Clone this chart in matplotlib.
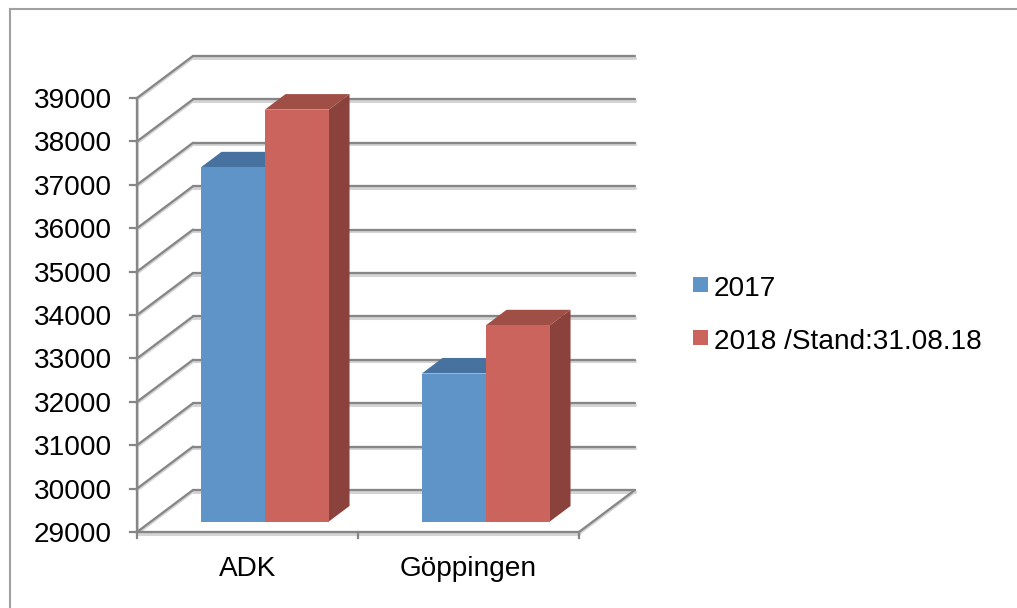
import numpy as np
import matplotlib
matplotlib.use('Agg')
import matplotlib.pyplot as plt
from matplotlib.lines import Line2D
from matplotlib.patches import Polygon

plt.rcParams['font.family'] = ['Liberation Sans', 'DejaVu Sans']

categories = ['ADK', 'Göppingen']
series_names = ['2017', '2018 /Stand:31.08.18']
values_2017 = [37160, 32410]
values_2018 = [38490, 33520]
y_ticks = [29000, 30000, 31000, 32000, 33000, 34000, 35000, 36000, 37000, 38000, 39000]

W, H = 1017, 608
GRID = '#868686'
BLUE, BLUE_TOP = '#5f94c9', '#47729f'
RED, RED_TOP, RED_SIDE = '#cb645c', '#a04f47', '#8c423c'
FS = 20.2

fig = plt.figure(figsize=(W / 100, H / 100), dpi=100)
# front plane of the fake 3d box, in pixels 137..579 / 98..532
ax = fig.add_axes([137 / W, 1 - 532 / H, (579 - 137) / W, (532 - 98) / H])
ax.set_xlim(0, 2)
ax.set_ylim(29000, 39000)
ax.axis('off')

# one full step of depth, in data units
DX = 56 / 221
DY = 42 / 43.4 * 1000


def proj(x, y, d):
    return (x + d * DX, y + d * DY)


def box(x0, x1, top, base, col, col_top, col_side, z):
    d0, d1 = 0.25, 0.62
    front = [proj(x0, base, d0), proj(x1, base, d0), proj(x1, top, d0), proj(x0, top, d0)]
    side = [proj(x1, base, d0), proj(x1, base, d1), proj(x1, top, d1), proj(x1, top, d0)]
    roof = [proj(x0, top, d0), proj(x1, top, d0), proj(x1, top, d1), proj(x0, top, d1)]
    ax.add_patch(Polygon(side, fc=col_side, ec='none', zorder=z, clip_on=False))
    ax.add_patch(Polygon(roof, fc=col_top, ec='none', zorder=z, clip_on=False))
    ax.add_patch(Polygon(front, fc=col, ec='none', zorder=z + 0.1, clip_on=False))


def gline(xs, ys, lw=2.2, z=1):
    # soft shadow under each grid line
    ax.plot(xs, np.array(ys) - 35, color='#d4d4d4', lw=lw, zorder=z - 0.1, clip_on=False,
            solid_capstyle='round')
    ax.plot(xs, ys, color=GRID, lw=lw * 0.75, zorder=z, clip_on=False, solid_capstyle='round')


# walls
for t in y_ticks:
    bx, by = proj(0, t, 1)
    ex, ey = proj(2, t, 1)
    gline([0, bx], [t, by])
    gline([bx, ex], [by, ey])
    ax.plot([-7 / 221, 0], [t, t], color=GRID, lw=1.6, clip_on=False, zorder=1)
    ax.text(-25 / 221, t - 70, str(t), ha='right', va='center', fontsize=FS, color='black')

# floor and axis
ex, ey = proj(2, y_ticks[0], 1)
gline([0, 2], [y_ticks[0], y_ticks[0]])
gline([2, ex], [y_ticks[0], ey])
gline([0, 0], [y_ticks[0], y_ticks[-1]])
for i in range(3):
    ax.plot([i, i], [y_ticks[0], y_ticks[0] - 140], color=GRID, lw=1.6, clip_on=False, zorder=1)

# bars, the later ones in front
bw = 64 / 221
for i, name in enumerate(categories):
    c = i + 0.515
    box(c - bw, c, values_2017[i], y_ticks[0], BLUE, BLUE_TOP, BLUE_TOP, 3)
    box(c, c + bw, values_2018[i], y_ticks[0], RED, RED_TOP, RED_SIDE, 4)
    ax.text(i + 0.5, 28140, name, ha='center', va='center', fontsize=FS, color='black')

# legend
for y_px, col, name in zip([286, 339], [BLUE, RED], series_names):
    fig.patches.append(plt.Rectangle((693 / W, 1 - (y_px + 6) / H), 15 / W, 15 / H, fc=col, ec='none',
                                     transform=fig.transFigure))
    fig.text(714 / W, 1 - (y_px + 3) / H, name, ha='left', va='center', fontsize=FS, color='black')

# outer frame, only top and left are in the crop
fig.add_artist(Line2D([9.5 / W, 9.5 / W], [0, 1 - 8.5 / H], color='#a0a0a0', lw=1.5))
fig.add_artist(Line2D([9.5 / W, 1], [1 - 8.5 / H, 1 - 8.5 / H], color='#a0a0a0', lw=1.5))

fig.savefig('out.png', dpi=100)
